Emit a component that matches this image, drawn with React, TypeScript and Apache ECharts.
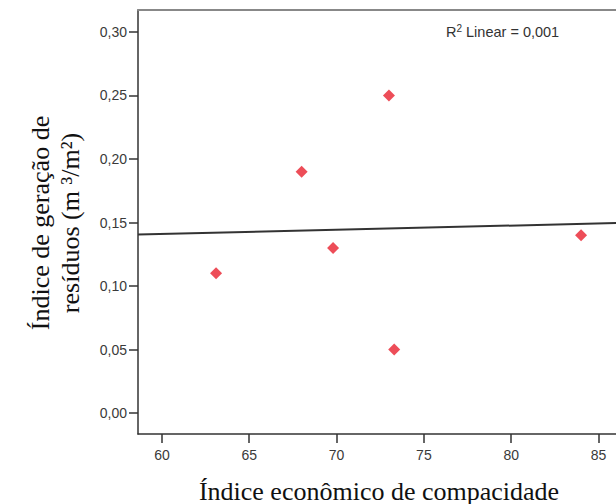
import React, { useEffect, useRef } from "react";
import * as echarts from "echarts";

const xValues = [63.1, 68.0, 69.8, 73.0, 73.3, 84.0];
const yValues = [0.11, 0.19, 0.13, 0.25, 0.05, 0.14];
const fitLine = [
  [58.63, 0.1405],
  [86.0, 0.1496],
];
const xTicks = [60, 65, 70, 75, 80, 85];
const yTicks = [0, 0.05, 0.1, 0.15, 0.2, 0.25, 0.3];
const xTitle = "Índice econômico de compacidade";
const yTitle = ["Índice de geração de", "resíduos (m ³/m²)"];
const r2Label = "0,001";

export default function App() {
  const ref = useRef<HTMLDivElement>(null);
  useEffect(() => {
    if (!ref.current) return;
    const chart = echarts.init(ref.current, null, { renderer: "svg" });
    const sans = "Arial, 'Liberation Sans', sans-serif";
    const serif = "'Times New Roman', 'Liberation Serif', serif";
    chart.setOption({
      animation: false,
      backgroundColor: "#ffffff",
      grid: { left: 138, top: 10, right: 0, bottom: 70, containLabel: false },
      xAxis: [
        {
          type: "value",
          position: "bottom",
          min: 58.63,
          max: 86,
          splitLine: { show: false },
          axisLine: { show: true, onZero: false, lineStyle: { color: "#333", width: 1.5 } },
          axisTick: {
            show: true,
            length: 9,
            customValues: xTicks,
            lineStyle: { color: "#333", width: 1.5 },
          },
          axisLabel: {
            customValues: xTicks,
            margin: 14,
            color: "#3a3a3a",
            fontSize: 14,
            fontFamily: sans,
            formatter: (v: number) => String(v),
          },
        },
        {
          type: "value",
          position: "top",
          min: 58.63,
          max: 86,
          splitLine: { show: false },
          axisLine: { show: true, onZero: false, lineStyle: { color: "#888", width: 2 } },
          axisTick: { show: false },
          axisLabel: { show: false },
        },
      ],
      yAxis: {
        type: "value",
        min: -0.0165,
        max: 0.3173,
        splitLine: { show: false },
        axisLine: { show: true, onZero: false, lineStyle: { color: "#333", width: 1.5 } },
        axisTick: {
          show: true,
          length: 9,
          customValues: yTicks,
          lineStyle: { color: "#333", width: 1.5 },
        },
        axisLabel: {
          customValues: yTicks,
          margin: 11,
          color: "#3a3a3a",
          fontSize: 14,
          fontFamily: sans,
          formatter: (v: number) => v.toFixed(2).replace(".", ","),
        },
      },
      series: [
        {
          type: "line",
          data: fitLine,
          symbol: "none",
          lineStyle: { color: "#333", width: 2 },
          silent: true,
        },
        {
          type: "scatter",
          data: xValues.map((x, i) => [x, yValues[i]]),
          symbol: "diamond",
          symbolSize: 12,
          itemStyle: { color: "#e8202e" },
        },
      ],
      graphic: [
        {
          type: "text",
          left: 446,
          top: 23,
          style: {
            text: "{a|R}{s|2}{a| Linear = " + r2Label + "}",
            rich: {
              a: { fontSize: 14.5, fontFamily: sans, fill: "#333", verticalAlign: "bottom" },
              s: { fontSize: 10, fontFamily: sans, fill: "#333", verticalAlign: "top", padding: [0, 0, 6, 0] },
            },
          },
        },
        {
          type: "text",
          x: 379,
          y: 491,
          style: {
            text: xTitle,
            font: "26px " + serif,
            fill: "#111",
            textAlign: "center",
            textVerticalAlign: "middle",
          },
        },
        {
          type: "text",
          x: 55,
          y: 223,
          rotation: Math.PI / 2,
          style: {
            text: yTitle.join("\n"),
            font: "26px " + serif,
            lineHeight: 30,
            fill: "#111",
            textAlign: "center",
            textVerticalAlign: "middle",
          },
        },
      ],
    });
    return () => chart.dispose();
  }, []);
  return (
    <div
      ref={ref}
      style={{ position: "fixed", left: 0, top: 0, width: 616, height: 504 }}
    />
  );
}
